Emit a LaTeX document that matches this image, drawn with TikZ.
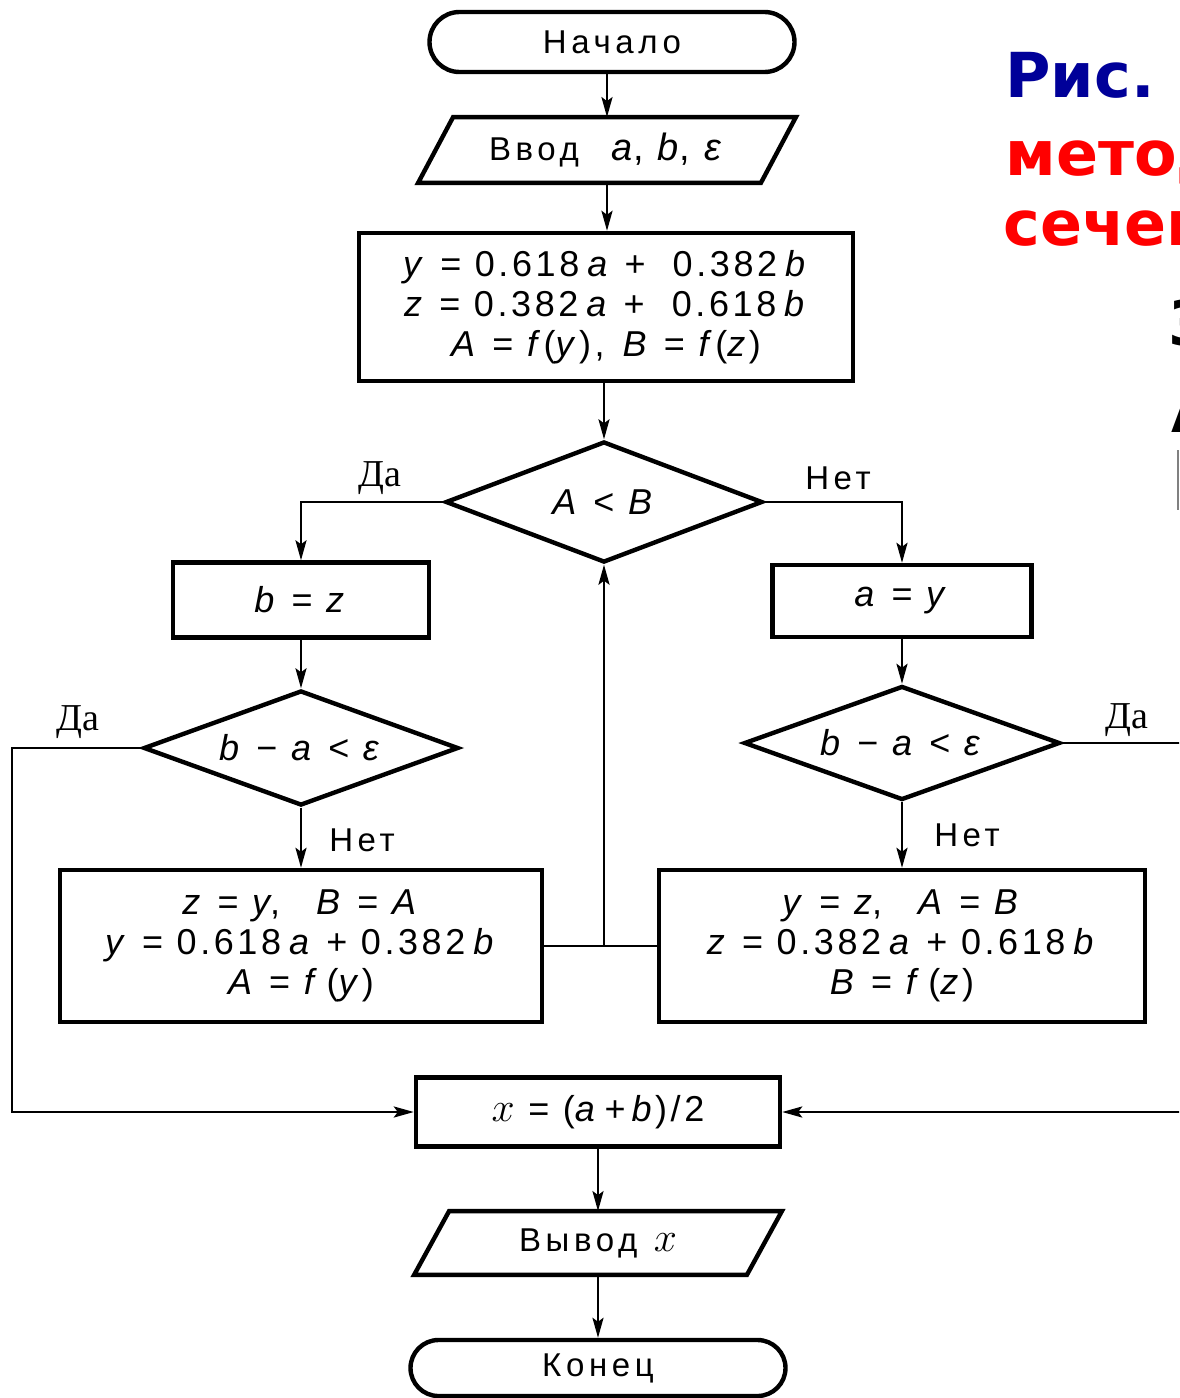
\documentclass[tikz,border=0pt]{standalone}
\usepackage{fontspec}
\setmainfont{Liberation Sans}
\newfontfamily\spc[LetterSpace=14]{Liberation Sans}
\newfontfamily\fml[LetterSpace=10]{Liberation Sans}
\newfontfamily\srf{Liberation Serif}
\newfontfamily\bigf{DejaVu Sans}
\usetikzlibrary{shapes.geometric,shapes.misc,arrows.meta,calc}
\newcommand\vi[1]{\textit{#1}}
\newcommand\gp{\hspace{0.22em}}
\newcommand\para[2]{\draw[line width=2.2pt] ([xshift=#2]#1.north west) -- ([xshift=#2]#1.north east) -- ([xshift=-#2]#1.south east) -- ([xshift=-#2]#1.south west) -- cycle;}
\begin{document}
\begin{tikzpicture}[x=0.5pt,y=-0.5pt,
  term/.style={rounded rectangle, draw, line width=2.2pt, inner sep=0pt, font=\spc\fontsize{16.5}{18}\selectfont},
  proc/.style={rectangle, draw, line width=2.2pt, inner sep=0pt, align=center, font=\fml\fontsize{18}{20}\selectfont},
  decis/.style={diamond, aspect=2.7, draw, line width=2.2pt, inner sep=0pt, font=\fml\fontsize{18}{20}\selectfont},
  iobox/.style={rectangle, inner sep=0pt, font=\spc\fontsize{16.5}{18}\selectfont},
  conn/.style={line width=1.3pt},
  arr/.style={conn, -{Stealth[length=10pt,width=5.5pt,inset=2pt]}},
  dalbl/.style={font=\srf\fontsize{19}{20}\selectfont},
  netlbl/.style={font=\spc\fontsize{16.5}{20}\selectfont}]
\useasboundingbox (0,0) rectangle (1179,1398);
\clip (0,0) rectangle (1179,1398);
\fill[white] (0,0) rectangle (1179,1398);

% nodes
\node[term, minimum width=182.5pt, minimum height=30pt] (start) at (612,42) {Начало};
\node[iobox, minimum width=171pt, minimum height=32.5pt] (in) at (607,150) {Ввод\quad{\fml\fontsize{19}{20}\selectfont\vi{a}, \vi{b}, \vi{ε}}};
\para{in}{8.75pt}
\node[proc, minimum width=247pt, minimum height=74pt] (calc) at (606,307)
  {\vi{y} = 0.618\gp\vi{a} + \ 0.382\gp\vi{b}\\ \vi{z} = 0.382\gp\vi{a} + \ 0.618\gp\vi{b}\\ \vi{A} = \vi{f}(\vi{y}),\enspace \vi{B} = \vi{f}(\vi{z})};
\node[decis, minimum width=158.5pt, minimum height=60.5pt] (d1) at (604,502) {\vi{A} < \vi{B}};
\node[proc, minimum width=128pt, minimum height=37.5pt] (bz) at (301,600) {\vi{b} = \vi{z}};
\node[proc, minimum width=129.5pt, minimum height=36pt] (ay) at (902,601) {\vi{a} = \vi{y}};
\node[decis, minimum width=157.5pt, minimum height=57.5pt] (dl) at (301,748) {\vi{b} − \vi{a} < \vi{ε}};
\node[decis, minimum width=158pt, minimum height=57pt] (dr) at (902,743) {\vi{b} − \vi{a} < \vi{ε}};
\node[proc, minimum width=241pt, minimum height=76pt] (lb) at (301,946)
  {\vi{z} = \vi{y},\quad \vi{B} = \vi{A}\\ \vi{y} = 0.618\gp\vi{a} + 0.382\gp\vi{b}\\ \vi{A} = \vi{f}\,(\vi{y})};
\node[proc, minimum width=243pt, minimum height=76pt] (rb) at (902,946)
  {\vi{y} = \vi{z},\quad \vi{A} = \vi{B}\\ \vi{z} = 0.382\gp\vi{a} + 0.618\gp\vi{b}\\ \vi{B} = \vi{f}\,(\vi{z})};
\node[proc, minimum width=182pt, minimum height=34.5pt] (xb) at (598,1112) {{\fontsize{21}{20}\selectfont$x$} = (\vi{a}\,+\,\vi{b})/2};
\node[iobox, minimum width=166pt, minimum height=31.5pt] (out) at (598,1243) {Вывод\enspace{\fontsize{21}{20}\selectfont$x$}};
\para{out}{8.75pt}
\node[term, minimum width=187.5pt, minimum height=28pt] (end) at (598,1368) {Конец};

% connectors
\draw[arr] (start.south -| in.north) -- (in.north);
\draw[arr] (in.south) -- (in.south |- calc.north);
\draw[arr] (calc.south -| d1.north) -- (d1.north);
\draw[arr] (d1.west) -| (bz.north);
\draw[arr] (d1.east) -| (ay.north);
\draw[arr] (bz.south) -- (dl.north);
\draw[arr] (ay.south) -- (dr.north);
\draw[arr] (dl.south) -- (lb.north);
\draw[arr] (dr.south) -- (rb.north);
\draw[conn] (lb.east) -- (rb.west);
\coordinate (j) at (d1.south |- lb.east);
\draw[arr] (j) -- (d1.south);
\coordinate (lc) at (12,1000);
\coordinate (rc) at (1210,1000);
\draw[arr] (dl.west) -| (lc) |- (xb.west);
\draw[arr] (dr.east) -| (rc) |- (xb.east);
\draw[arr] (xb.south) -- (out.north);
\draw[arr] (out.south) -- (end.north);

% labels
\node[dalbl] (l1) at (380,478) {Да};
\node[netlbl] (l2) at (838,478) {Нет};
\node[dalbl] (l3) at (78,722) {Да};
\node[dalbl] (l4) at (1127,720) {Да};
\node[netlbl] (l5) at (362,840) {Нет};
\node[netlbl] (l6) at (967,835) {Нет};

% side caption (cut off at the right edge, as in the reference)
\node[anchor=base west, inner sep=0pt, text={rgb,255:red,0;green,0;blue,153}, font=\bigf\bfseries\fontsize{31}{36}\selectfont] (ris) at (1005,97) {Рис.};
\node[anchor=base west, inner sep=0pt, text=red, font=\bigf\bfseries\fontsize{31}{36}\selectfont] (met) at (1005,175) {метод};
\node[anchor=base west, inner sep=0pt, text=red, font=\bigf\bfseries\fontsize{31}{36}\selectfont] (sech) at (1003,245) {сечен};
\node[anchor=base west, inner sep=0pt, font=\bigf\bfseries\fontsize{31}{36}\selectfont] (z3) at (1168,345) {3};
\node[anchor=base west, inner sep=0pt, font=\bigf\bfseries\fontsize{31}{36}\selectfont] (aa) at (1171,432) {А};
\draw[gray, line width=0.6pt] (1178,450) -- (1178,510);
\end{tikzpicture}
\end{document}
